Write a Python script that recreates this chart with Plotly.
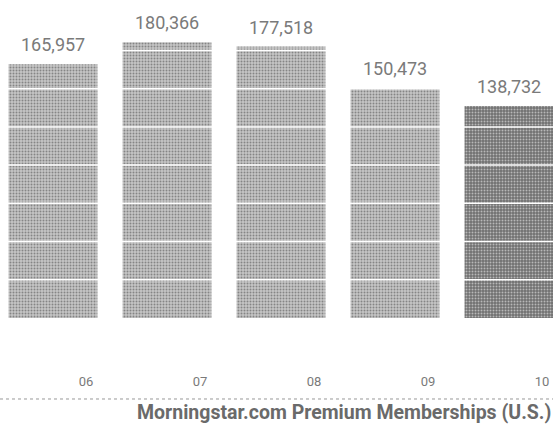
import plotly.graph_objects as go

years = ["06", "07", "08", "09", "10"]
members = [165957, 180366, 177518, 150473, 138732]
bar_colors = ["#c6c6c6", "#c6c6c6", "#c6c6c6", "#c6c6c6", "#707070"]
dot_colors = ["#9a9a9a", "#9a9a9a", "#9a9a9a", "#9a9a9a", "#4a4a4a"]
value_labels = ["165,957", "180,366", "177,518", "150,473", "138,732"]
grid_values = [25000, 50000, 75000, 100000, 125000, 150000, 175000]
title_text = "Morningstar.com Premium Memberships (U.S.)"

FONT = "Liberation Sans Narrow, Roboto, Liberation Sans, sans-serif"

fig = go.Figure()
fig.add_trace(go.Bar(
    x=years, y=members, width=0.78,
    marker=dict(color=bar_colors, line=dict(width=0),
                pattern=dict(shape=".", fgcolor=dot_colors, bgcolor=bar_colors,
                             size=3, solidity=0.35, fillmode="overlay")),
    hoverinfo="skip", showlegend=False,
))

for g in grid_values:
    fig.add_shape(type="line", xref="paper", x0=0, x1=1, yref="y", y0=g, y1=g,
                  line=dict(color="white", width=1.5), layer="above")

for i, (v, t) in enumerate(zip(members, value_labels)):
    fig.add_annotation(x=i, y=v, xref="x", yref="y", text=t, showarrow=False,
                       yanchor="bottom", yshift=7,
                       font=dict(family=FONT, size=18, color="#7a7a7a"))

# dotted rule
fig.add_shape(type="line", xref="paper", yref="paper", x0=0, x1=1,
              y0=-0.2547, y1=-0.2547, line=dict(color="#999999", width=1, dash="dot"))

fig.add_annotation(xref="paper", yref="paper", x=1.0, y=-0.2956, xanchor="right",
                   yanchor="middle", text="<b>" + title_text + "</b>", showarrow=False,
                   font=dict(family=FONT, size=19.5, color="#6a6a6a"))

fig.update_layout(
    width=553, height=429,
    margin=dict(l=0, r=0, t=0, b=111, pad=0),
    paper_bgcolor="white", plot_bgcolor="white",
    xaxis=dict(type="category", range=[-0.465, 4.386], showgrid=False, zeroline=False,
               showline=False, ticks="", ticklabelshift=33, ticklabelstandoff=54,
               tickfont=dict(family=FONT, size=13, color="#7a7a7a")),
    yaxis=dict(range=[0, 208000], visible=False, showgrid=False, zeroline=False),
    bargap=0.22,
)

fig.write_html("out.html", config={"displayModeBar": False, "staticPlot": True},
               post_script="document.body.style.margin='0';")
